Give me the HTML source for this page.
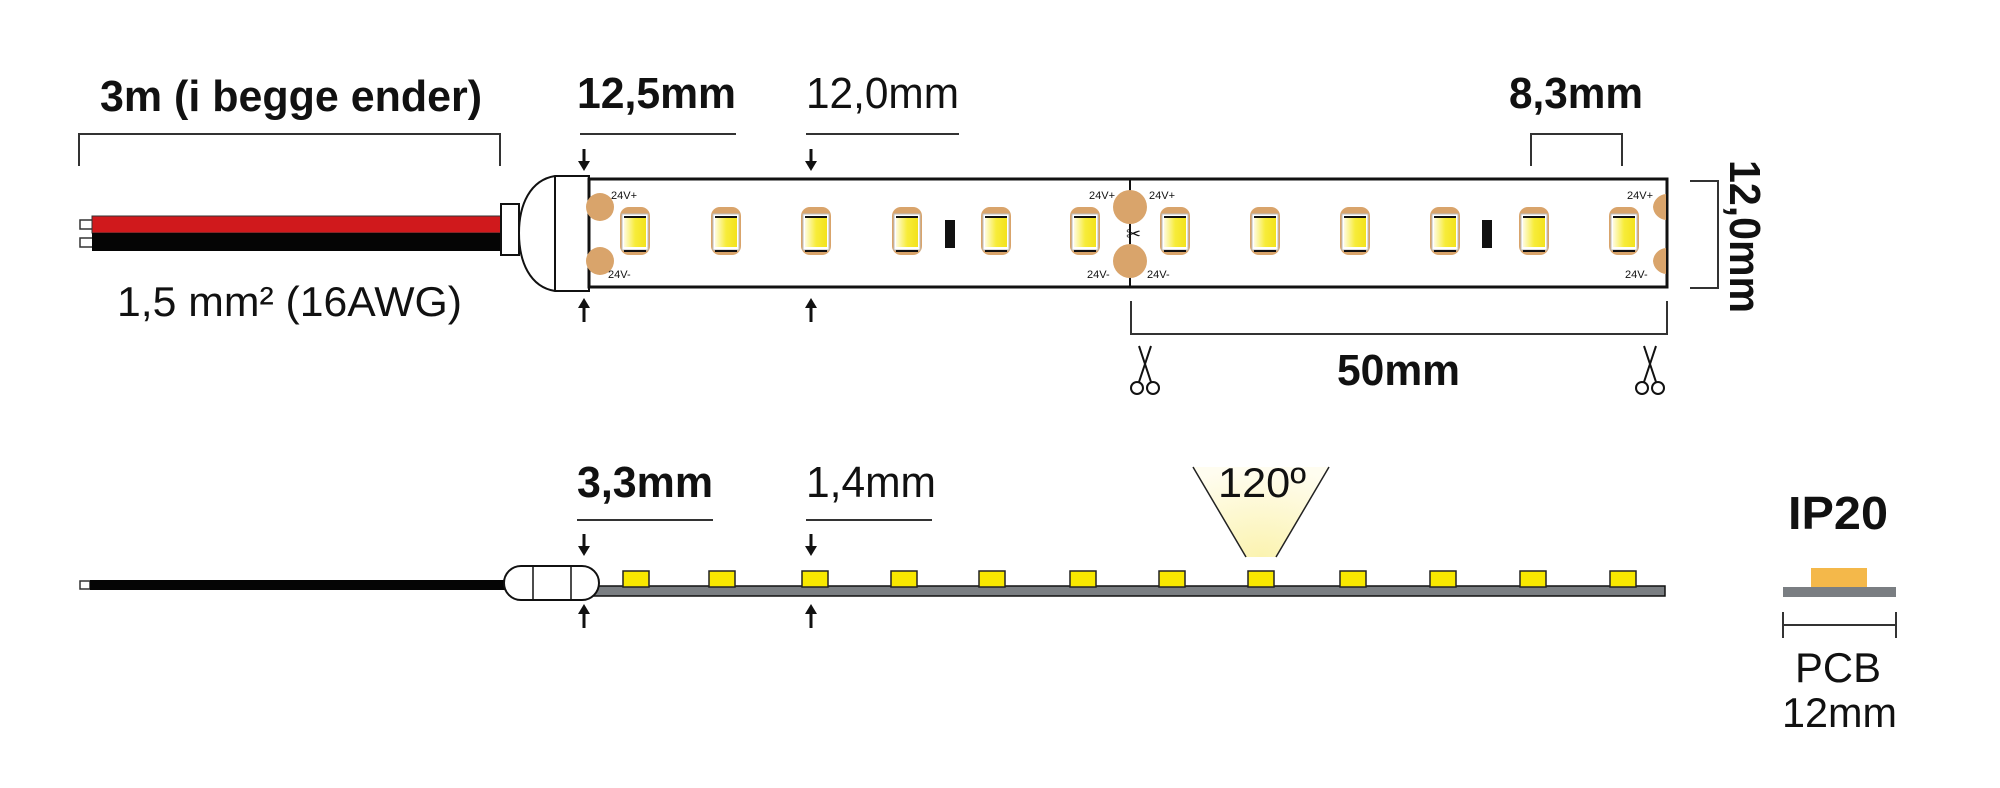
<!DOCTYPE html>
<html><head><meta charset="utf-8"><style>
html,body{margin:0;padding:0;background:#fff;}
svg{display:block;}
text{font-family:"Liberation Sans Narrow","Liberation Sans",sans-serif;fill:#111;}
.b{font-weight:bold;}
</style></head><body>
<svg width="2000" height="788" viewBox="0 0 2000 788" xmlns="http://www.w3.org/2000/svg">
<defs>
<linearGradient id="ly" x1="0" x2="1"><stop offset="0" stop-color="#fffbe0"/><stop offset="0.5" stop-color="#f7ec3a"/><stop offset="1" stop-color="#f3e21c"/></linearGradient>
<radialGradient id="cone" cx="0.5" cy="1" r="1"><stop offset="0" stop-color="#fbf3b0"/><stop offset="1" stop-color="#fffdf0"/></radialGradient>
<g id="led">
<rect x="-15" y="207" width="30" height="48" rx="9" fill="#d9a46b"/>
<rect x="-13" y="214" width="26" height="36" fill="#fff" stroke="#bbb" stroke-width="1"/>
<rect x="-11" y="218" width="22" height="29" fill="url(#ly)"/>
<line x1="-11" y1="217" x2="11" y2="217" stroke="#111" stroke-width="2"/>
<line x1="-11" y1="251" x2="11" y2="251" stroke="#111" stroke-width="2"/>
</g>
<g id="sled"><rect x="-13" y="571" width="26" height="16" fill="#f8e800" stroke="#222" stroke-width="1.5"/></g>
<g id="arrdn"><line x1="0" y1="0" x2="0" y2="14" stroke="#111" stroke-width="3"/><polygon points="-6,12 6,12 0,22" fill="#111"/></g>
<g id="arrup"><line x1="0" y1="8" x2="0" y2="24" stroke="#111" stroke-width="3"/><polygon points="-6,10 6,10 0,0" fill="#111"/></g>
<g id="sc" fill="none" stroke="#111" stroke-width="2">
<circle cx="-8" cy="44" r="6"/><circle cx="8" cy="44" r="6"/>
<path d="M-6,38 L6,2 M6,38 L-6,2"/>
</g>
</defs>

<!-- top left texts -->
<text class="b" x="100" y="111" font-size="44" textLength="382" lengthAdjust="spacingAndGlyphs">3m (i begge ender)</text>
<path d="M79,166 V134 H500 V166" fill="none" stroke="#333" stroke-width="2"/>
<text x="117" y="316" font-size="42" textLength="345" lengthAdjust="spacingAndGlyphs">1,5 mm² (16AWG)</text>

<!-- wires -->
<rect x="80" y="220" width="13" height="9" fill="#fff" stroke="#333" stroke-width="1.5"/>
<rect x="80" y="238" width="13" height="9" fill="#fff" stroke="#333" stroke-width="1.5"/>
<rect x="92" y="216" width="410" height="17" fill="#d0191c" stroke="#333" stroke-width="1"/>
<rect x="92" y="233" width="410" height="18" fill="#050505"/>
<rect x="501" y="204" width="18" height="51" fill="#fff" stroke="#111" stroke-width="2"/>
<path d="M589,176 H555 C530,180 519,205 519,233 C519,262 530,287 555,291 H589 Z" fill="#fff" stroke="#111" stroke-width="2"/>
<line x1="555" y1="176" x2="555" y2="291" stroke="#111" stroke-width="2"/>

<!-- top strip -->
<rect x="589" y="179" width="1078" height="108" fill="#fff" stroke="#111" stroke-width="3"/>
<line x1="1130" y1="179" x2="1130" y2="287" stroke="#111" stroke-width="2"/>
<circle cx="600" cy="207" r="14" fill="#d9a46b"/><circle cx="600" cy="261" r="14" fill="#d9a46b"/>
<circle cx="1130" cy="207" r="17" fill="#d9a46b"/><circle cx="1130" cy="261" r="17" fill="#d9a46b"/>
<path d="M1653,207 a14,14 0 0 1 13,-13 v26 a14,14 0 0 1 -13,-13z M1653,261 a14,14 0 0 1 13,-13 v26 a14,14 0 0 1 -13,-13z" fill="#d9a46b"/>
<text x="1126" y="240" font-size="18" fill="#111">✂</text>
<g font-size="11">
<text x="611" y="199">24V+</text><text x="608" y="278">24V-</text>
<text x="1089" y="199">24V+</text><text x="1087" y="278">24V-</text>
<text x="1149" y="199">24V+</text><text x="1147" y="278">24V-</text>
<text x="1627" y="199">24V+</text><text x="1625" y="278">24V-</text>
</g>
<use href="#led" x="635"/><use href="#led" x="726"/><use href="#led" x="816"/><use href="#led" x="907"/>
<use href="#led" x="996"/><use href="#led" x="1085"/><use href="#led" x="1175"/><use href="#led" x="1265"/>
<use href="#led" x="1355"/><use href="#led" x="1445"/><use href="#led" x="1534"/><use href="#led" x="1624"/>
<rect x="945" y="220" width="10" height="28" fill="#111"/>
<rect x="1482" y="220" width="10" height="28" fill="#111"/>

<!-- top dimensions -->
<text class="b" x="577" y="108" font-size="44" textLength="159" lengthAdjust="spacingAndGlyphs">12,5mm</text>
<line x1="580" y1="134" x2="736" y2="134" stroke="#333" stroke-width="2"/>
<text x="806" y="108" font-size="44" textLength="153" lengthAdjust="spacingAndGlyphs">12,0mm</text>
<line x1="806" y1="134" x2="959" y2="134" stroke="#333" stroke-width="2"/>
<use href="#arrdn" x="584" y="149"/><use href="#arrup" x="584" y="298"/>
<use href="#arrdn" x="811" y="149"/><use href="#arrup" x="811" y="298"/>
<text class="b" x="1509" y="108" font-size="44" textLength="134" lengthAdjust="spacingAndGlyphs">8,3mm</text>
<path d="M1531,166 V134 H1622 V166" fill="none" stroke="#333" stroke-width="2"/>
<path d="M1690,181 H1718 V288 H1690" fill="none" stroke="#333" stroke-width="2"/>
<text class="b" font-size="44" transform="translate(1730,160) rotate(90)" textLength="153" lengthAdjust="spacingAndGlyphs">12,0mm</text>
<path d="M1131,301 V334 H1667 V301" fill="none" stroke="#333" stroke-width="2"/>
<text class="b" x="1337" y="385" font-size="44" textLength="123" lengthAdjust="spacingAndGlyphs">50mm</text>
<use href="#sc" x="1145" y="344"/><use href="#sc" x="1650" y="344"/>

<!-- bottom side view -->
<rect x="80" y="581" width="10" height="8" fill="#fff" stroke="#333" stroke-width="1.5"/>
<rect x="90" y="580" width="416" height="10" fill="#050505"/>
<rect x="589" y="586" width="1076" height="10" fill="#7a7e82" stroke="#111" stroke-width="1.5"/>
<rect x="504" y="566" width="95" height="34" rx="17" fill="#fff" stroke="#111" stroke-width="2"/>
<line x1="533" y1="566" x2="533" y2="600" stroke="#111" stroke-width="1.5"/>
<line x1="571" y1="566" x2="571" y2="600" stroke="#111" stroke-width="1.5"/>
<use href="#sled" x="636"/><use href="#sled" x="722"/><use href="#sled" x="815"/><use href="#sled" x="904"/>
<use href="#sled" x="992"/><use href="#sled" x="1083"/><use href="#sled" x="1172"/><use href="#sled" x="1261"/>
<use href="#sled" x="1353"/><use href="#sled" x="1443"/><use href="#sled" x="1533"/><use href="#sled" x="1623"/>
<polygon points="1193,467 1329,467 1276,557 1246,557" fill="url(#cone)"/>
<line x1="1193" y1="467" x2="1246" y2="557" stroke="#222" stroke-width="1.5"/>
<line x1="1329" y1="467" x2="1276" y2="557" stroke="#222" stroke-width="1.5"/>
<text x="1218" y="497" font-size="42" textLength="88" lengthAdjust="spacingAndGlyphs">120º</text>

<text class="b" x="577" y="497" font-size="44" textLength="136" lengthAdjust="spacingAndGlyphs">3,3mm</text>
<line x1="577" y1="520" x2="713" y2="520" stroke="#333" stroke-width="2"/>
<text x="806" y="497" font-size="44" textLength="130" lengthAdjust="spacingAndGlyphs">1,4mm</text>
<line x1="806" y1="520" x2="932" y2="520" stroke="#333" stroke-width="2"/>
<use href="#arrdn" x="584" y="534"/><use href="#arrup" x="584" y="604"/>
<use href="#arrdn" x="811" y="534"/><use href="#arrup" x="811" y="604"/>

<!-- IP20 -->
<text class="b" x="1788" y="529" font-size="46" textLength="100" lengthAdjust="spacingAndGlyphs">IP20</text>
<rect x="1811" y="568" width="56" height="20" fill="#f4b84a"/>
<rect x="1783" y="587" width="113" height="10" fill="#7a7e82"/>
<path d="M1783,612 V638 M1783,625 H1896 M1896,612 V638" fill="none" stroke="#333" stroke-width="2"/>
<text x="1795" y="682" font-size="42" textLength="86" lengthAdjust="spacingAndGlyphs">PCB</text>
<text x="1782" y="727" font-size="42" textLength="115" lengthAdjust="spacingAndGlyphs">12mm</text>
</svg>
</body></html>
